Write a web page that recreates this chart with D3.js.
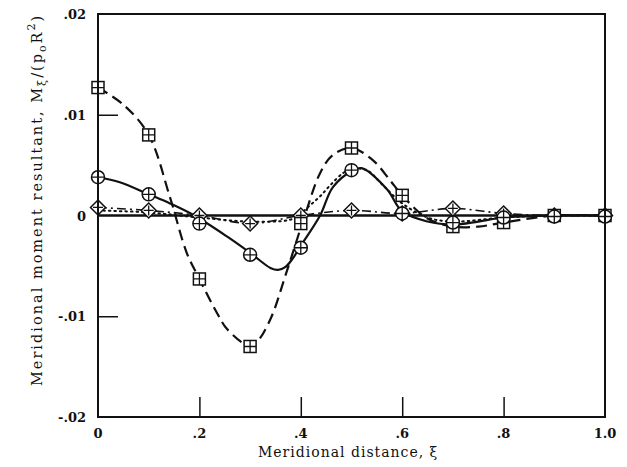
<!DOCTYPE html>
<html>
<head>
<meta charset="utf-8">
<script src="https://cdn.jsdelivr.net/npm/d3@7"></script>
<style>
  html, body { margin: 0; padding: 0; background: #fff; }
  svg { display: block; }
  text { fill: #111; }
</style>
</head>
<body>
<svg id="chart" width="627" height="467"></svg>
<script>
// Meridional moment resultant along the meridian, four solutions.
const xTicks = [0, 0.2, 0.4, 0.6, 0.8, 1.0];
const xTickLabels = ["0", ".2", ".4", ".6", ".8", "1.0"];
const yTicks = [0.02, 0.01, 0, -0.01, -0.02];
const yTickLabels = [".02", ".01", "0", "-.01", "-.02"];

// Marker stations (ξ) shared by all point series
const stations = [0, 0.1, 0.2, 0.3, 0.4, 0.5, 0.6, 0.7, 0.8, 0.9, 1.0];

// Point values at the stations
const squareValues  = [0.0127, 0.0080, -0.0063, -0.0130, -0.0008, 0.0067, 0.0020, -0.0011, -0.0007, 0.0000, 0.0000];
const circleValues  = [0.0038, 0.0021, -0.0008, -0.0039, -0.0032, 0.0045, 0.0002, -0.0007, -0.0002, -0.0001, -0.0001];
const diamondValues = [0.0008, 0.0005, 0.0000, -0.0008, 0.0000, 0.0005, 0.0002, 0.0007, 0.0002, 0.0000, 0.0000];

// Faired curves: [ξ, M] knots
const dashedCurve = [[0,0.0127],[0.05,0.0110],[0.1,0.0080],[0.142,0.0018],[0.175,-0.0037],[0.2,-0.0063],
  [0.235,-0.0097],[0.255,-0.0113],[0.3,-0.0130],[0.313,-0.0126],[0.34,-0.0103],[0.372,-0.0056],
  [0.408,0.0000],[0.438,0.0042],[0.463,0.0060],[0.5,0.0067],[0.542,0.0055],[0.576,0.0035],
  [0.6,0.0020],[0.65,-0.0003],[0.7,-0.0011],[0.75,-0.0011],[0.8,-0.0007],[0.9,0.0000],[1.0,0.0000]];
const solidCurve = [[0,0.0038],[0.043,0.0033],[0.1,0.0021],[0.142,0.0012],[0.19,0.0000],[0.255,-0.0021],
  [0.3,-0.0037],[0.34,-0.0052],[0.355,-0.0054],[0.37,-0.0051],[0.385,-0.0042],[0.4,-0.0030],
  [0.438,0.0000],[0.463,0.0028],[0.5,0.0044],[0.52,0.0047],[0.57,0.0026],[0.6,0.0004],
  [0.65,-0.0006],[0.7,-0.0009],[0.75,-0.0006],[0.8,-0.0002],[0.9,0.0000],[1.0,0.0000]];
const dottedCurve = [[0,0.0005],[0.1,0.0003],[0.2,-0.0002],[0.3,-0.0006],[0.38,-0.0004],[0.4,0.0002],
  [0.418,0.0010],[0.438,0.0019],[0.458,0.0030],[0.483,0.0042],[0.5,0.0046],[0.53,0.0045],
  [0.562,0.0030],[0.6,0.0012],[0.65,-0.0002],[0.7,-0.0006],[0.8,-0.0002],[0.9,0.0000],[1.0,0.0000]];
const dashDotCurve = [[0,0.0008],[0.1,0.0005],[0.2,0.0000],[0.3,-0.0008],[0.4,0.0000],[0.5,0.0005],
  [0.6,0.0002],[0.7,0.0007],[0.8,0.0002],[0.9,0.0000],[1.0,0.0000]];

const svg = d3.select("#chart");
const plotLeft = 98, plotRight = 605, plotTop = 14, plotBottom = 417;

const x = d3.scaleLinear().domain([0, 1]).range([plotLeft, plotRight]);
const y = d3.scaleLinear().domain([-0.02, 0.02]).range([plotBottom, plotTop]);

const serif = "'DejaVu Serif', 'Liberation Serif', serif";

// Inner tick marks
const tickLen = 20;
const axisBottom = d3.axisBottom(x).tickValues(xTicks.slice(1, -1)).tickSize(-tickLen).tickFormat("");
svg.append("g").attr("transform", `translate(0,${plotBottom})`).call(axisBottom)
  .call(g => g.select(".domain").remove())
  .call(g => g.selectAll("line").attr("stroke", "#111").attr("stroke-width", 1.5));
const axisLeft = d3.axisLeft(y).tickValues([0.01, -0.01]).tickSize(-tickLen).tickFormat("");
svg.append("g").attr("transform", `translate(${plotLeft},0)`).call(axisLeft)
  .call(g => g.select(".domain").remove())
  .call(g => g.selectAll("line").attr("stroke", "#111").attr("stroke-width", 1.5));

// Tick labels
svg.append("g").selectAll("text").data(xTicks).join("text")
  .attr("x", d => x(d)).attr("y", plotBottom + 21)
  .attr("text-anchor", "middle")
  .attr("font-family", serif).attr("font-size", 13).attr("font-weight", "bold")
  .text((d, i) => xTickLabels[i]);
svg.append("g").selectAll("text").data(yTicks).join("text")
  .attr("x", 86).attr("y", d => y(d) + 5)
  .attr("text-anchor", "end")
  .attr("font-family", serif).attr("font-size", 13).attr("font-weight", "bold")
  .text((d, i) => yTickLabels[i]);

// Axis titles
svg.append("text")
  .attr("x", 258).attr("y", 457)
  .attr("font-family", serif).attr("font-size", 14).attr("letter-spacing", 1)
  .text("Meridional distance, ξ");

const yt = svg.append("text")
  .attr("transform", `translate(42,386) rotate(-90)`)
  .attr("font-family", serif).attr("font-size", 14.5).attr("letter-spacing", 2);
yt.append("tspan").text("Meridional moment resultant, M");
yt.append("tspan").attr("dy", 4).attr("font-size", 11).text("ξ");
yt.append("tspan").attr("dy", -4).text("/(p");
yt.append("tspan").attr("dy", 4).attr("font-size", 11).text("o");
yt.append("tspan").attr("dy", -4).text("R");
yt.append("tspan").attr("dy", -7).attr("font-size", 11).text("2");
yt.append("tspan").attr("dy", 7).text(")");

// Zero line
svg.append("line")
  .attr("x1", x(0)).attr("x2", x(1)).attr("y1", y(0)).attr("y2", y(0))
  .attr("stroke", "#111").attr("stroke-width", 2.6);

// Curves
const line = d3.line().x(d => x(d[0])).y(d => y(d[1])).curve(d3.curveCatmullRom.alpha(0.5));
const curves = [
  { data: dottedCurve, dash: "1.5,4", width: 2, cap: "round" },
  { data: dashDotCurve, dash: "9,4,2,4", width: 1.6, cap: "butt" },
  { data: dashedCurve, dash: "11,6", width: 2.2, cap: "butt" },
  { data: solidCurve, dash: null, width: 2.2, cap: "round" }
];
svg.append("g").selectAll("path").data(curves).join("path")
  .attr("d", d => line(d.data))
  .attr("fill", "none").attr("stroke", "#111")
  .attr("stroke-width", d => d.width)
  .attr("stroke-linecap", d => d.cap)
  .attr("stroke-dasharray", d => d.dash);

// Markers: outline with a cross inside
function drawMarkers(values, shape) {
  const g = svg.append("g");
  const pts = stations.map((s, i) => [s, values[i]]);
  const m = g.selectAll("g").data(pts).join("g")
    .attr("transform", d => `translate(${x(d[0])},${y(d[1])})`);
  const st = sel => sel.attr("fill", "#fff").attr("stroke", "#111").attr("stroke-width", 1.5);
  let r;
  if (shape === "square") {
    r = 6;
    m.append("rect").attr("x", -r).attr("y", -r).attr("width", 2 * r).attr("height", 2 * r).call(st);
  } else if (shape === "circle") {
    r = 6.5;
    m.append("circle").attr("r", r).call(st);
  } else {
    r = 7.5;
    m.append("path").attr("d", `M0,${-r}L${r},0L0,${r}L${-r},0Z`).call(st);
    r = 5;
  }
  m.append("path").attr("d", `M${-r},0H${r}M0,${-r}V${r}`)
    .attr("stroke", "#111").attr("stroke-width", 1.3).attr("fill", "none");
}
drawMarkers(diamondValues, "diamond");
drawMarkers(squareValues, "square");
drawMarkers(circleValues, "circle");

// Frame
svg.append("rect")
  .attr("x", plotLeft).attr("y", plotTop).attr("width", plotRight - plotLeft).attr("height", plotBottom - plotTop)
  .attr("fill", "none").attr("stroke", "#111").attr("stroke-width", 2);
</script>
</body>
</html>
